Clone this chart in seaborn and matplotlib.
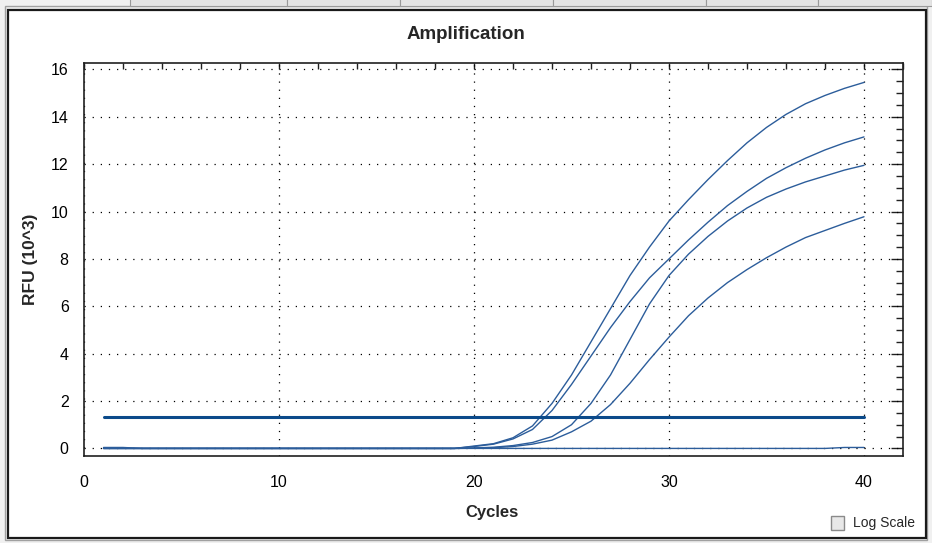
import matplotlib.pyplot as plt
import seaborn as sns
import pandas as pd
import numpy as np
from matplotlib.patches import Rectangle
from matplotlib.ticker import MultipleLocator

# amplification data, RFU in 10^3, one value per cycle 1..40
cycles = list(range(1, 41))
flat_19 = [0.0] * 19
well_a = flat_19 + [0.1, 0.2, 0.45, 0.95, 1.9, 3.1, 4.5, 5.9, 7.3, 8.5, 9.6, 10.5,
                    11.35, 12.15, 12.9, 13.55, 14.1, 14.55, 14.9, 15.2, 15.45]
well_b = flat_19 + [0.08, 0.18, 0.4, 0.8, 1.6, 2.7, 3.9, 5.1, 6.2, 7.2, 8.0, 8.8,
                    9.55, 10.25, 10.85, 11.4, 11.85, 12.25, 12.6, 12.9, 13.15]
well_c = flat_19 + [0.02, 0.05, 0.12, 0.25, 0.5, 1.0, 1.9, 3.1, 4.6, 6.1, 7.3, 8.2,
                    8.95, 9.6, 10.15, 10.6, 10.95, 11.25, 11.5, 11.75, 11.95]
well_d = flat_19 + [0.01, 0.03, 0.08, 0.18, 0.35, 0.7, 1.15, 1.85, 2.75, 3.75, 4.7, 5.6,
                    6.35, 7.0, 7.55, 8.05, 8.5, 8.9, 9.2, 9.5, 9.78]
negative = [0.04, 0.04] + [0.0] * 36 + [0.04, 0.04]
threshold_cycles = [1, 40]
threshold_value = 1.31

line_color = '#2c5d9b'
thr_color = '#0b4a8a'

sns.set_style('white')
plt.rcParams['font.family'] = ['Liberation Sans', 'DejaVu Sans']

fig = plt.figure(figsize=(9.32, 5.43), dpi=100)
fig.patch.set_facecolor('#f0f0f0')

# window frame (behind the axes)
fig.patches.append(Rectangle((5 / 932, 3 / 543), 922 / 932, 534 / 543, transform=fig.transFigure,
                             facecolor='none', edgecolor='#a0a0a0', lw=1.0, zorder=-3))
fig.patches.append(Rectangle((8 / 932, 5 / 543), 918 / 932, 528 / 543, transform=fig.transFigure,
                             facecolor='white', edgecolor='#1a1a1a', lw=1.6, zorder=-2))
# tab strip at the top
for x0, x1 in [(130, 287), (287, 400), (400, 553), (553, 706), (706, 818), (818, 932)]:
    fig.patches.append(Rectangle((x0 / 932, 537 / 543), (x1 - x0) / 932, 8 / 543,
                                 transform=fig.transFigure, facecolor='#e4e4e4',
                                 edgecolor='#9a9a9a', lw=0.8, zorder=-3))

ax = fig.add_axes([84 / 932, 87 / 543, 819 / 932, 393 / 543])
ax.set_zorder(2)
ax.set_facecolor('white')

df = pd.DataFrame({
    'Cycles': cycles * 5,
    'RFU': well_a + well_b + well_c + well_d + negative,
    'well': ['A'] * 40 + ['B'] * 40 + ['C'] * 40 + ['D'] * 40 + ['NTC'] * 40,
})
sns.lineplot(data=df, x='Cycles', y='RFU', hue='well', units='well', estimator=None,
             palette=[line_color] * 5, linewidth=1.0, legend=False, ax=ax, zorder=3)

thr = pd.DataFrame({'Cycles': threshold_cycles, 'RFU': [threshold_value] * 2})
sns.lineplot(data=thr, x='Cycles', y='RFU', color=thr_color, linewidth=2.2, ax=ax, zorder=4)

ax.set_xlim(0, 42)
ax.set_ylim(-0.32, 16.27)
ax.xaxis.set_major_locator(MultipleLocator(10))
ax.xaxis.set_minor_locator(MultipleLocator(2))
ax.yaxis.set_major_locator(MultipleLocator(2))
ax.yaxis.set_minor_locator(MultipleLocator(0.5))

ax.grid(True, which='major', color='black', linestyle=(0, (1, 5.5)), linewidth=0.9)
ax.set_axisbelow(True)

for s in ax.spines.values():
    s.set_color('#202020')
    s.set_linewidth(1.2)

ax.tick_params(axis='both', which='major', direction='inout', length=10, width=1.0,
               color='#202020', labelsize=11.5, labelcolor='black')
ax.tick_params(axis='both', which='minor', direction='inout', length=6, width=1.0,
               color='#202020')
ax.tick_params(axis='x', which='major', pad=9)
ax.tick_params(axis='y', which='major', pad=6)

# ticks on top and right, pointing inward
top = ax.secondary_xaxis('top')
top.xaxis.set_major_locator(MultipleLocator(2))
top.tick_params(direction='in', length=4, width=1.0, labeltop=False, color='#202020')
top.spines['top'].set_visible(False)
right = ax.secondary_yaxis('right')
right.yaxis.set_major_locator(MultipleLocator(2))
right.yaxis.set_minor_locator(MultipleLocator(0.5))
right.tick_params(which='major', direction='in', length=9, width=1.0, labelright=False, color='#202020')
right.tick_params(which='minor', direction='in', length=5, width=1.0, color='#202020')
right.spines['right'].set_visible(False)

ax.set_xlabel('')
ax.set_ylabel('')
fig.text(492 / 932, 1 - 513 / 543, 'Cycles', ha='center', va='center',
         fontsize=12, fontweight='bold')
fig.text(30 / 932, 1 - 259 / 543, 'RFU (10^3)', ha='center', va='center',
         rotation=90, fontsize=12.5, fontweight='bold')
fig.text(466 / 932, 1 - 35 / 543, 'Amplification', ha='center', va='center',
         fontsize=13.5, fontweight='bold')

# "Log Scale" checkbox
fig.patches.append(Rectangle((831 / 932, 1 - 530 / 543), 13 / 932, 14 / 543, transform=fig.transFigure,
                             facecolor='#e8e8e8', edgecolor='#8a8a8a', lw=1.0))
fig.text(853 / 932, 1 - 523 / 543, 'Log Scale', ha='left', va='center', fontsize=10)

fig.savefig('out.png', dpi=100, facecolor=fig.get_facecolor())
